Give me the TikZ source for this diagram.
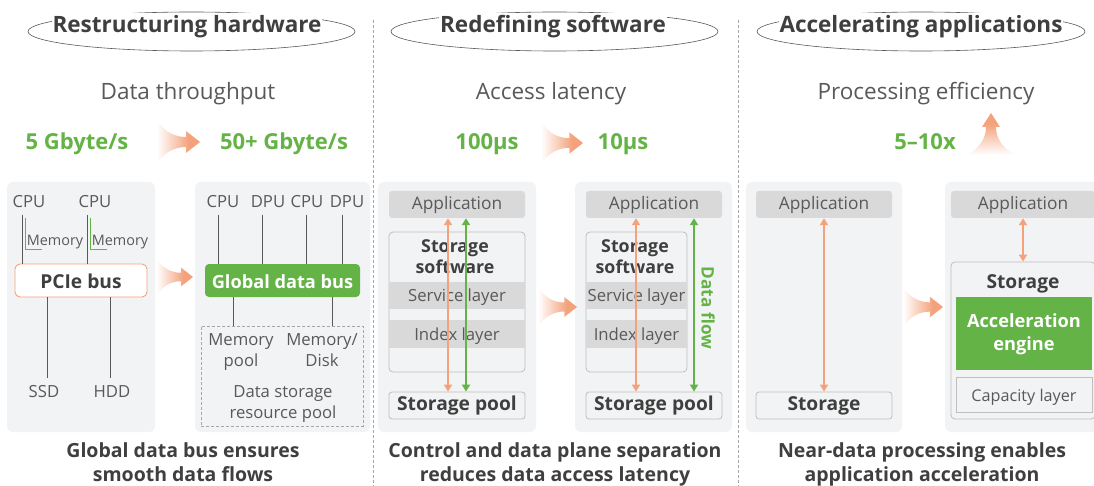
\documentclass[tikz,border=0pt]{standalone}
\usepackage{fontspec}
\setmainfont{Open Sans}
\usetikzlibrary{arrows.meta}

\definecolor{panelbg}{HTML}{F2F3F4}
\definecolor{layergray}{HTML}{D9D9D9}
\definecolor{textgray}{HTML}{595959}
\definecolor{headgray}{HTML}{3F3F3F}
\definecolor{hwgreen}{HTML}{64B346}
\definecolor{hworange}{HTML}{F4A27C}
\definecolor{framegray}{HTML}{BFBFBF}
\definecolor{wiregray}{HTML}{595959}
\definecolor{sepgray}{HTML}{A6A6A6}

\pgfdeclarehorizontalshading{faderight}{100bp}{color(0bp)=(white); color(25bp)=(white); color(62bp)=(hworange); color(100bp)=(hworange)}
\pgfdeclareverticalshading{fadeup}{100bp}{color(0bp)=(white); color(25bp)=(white); color(62bp)=(hworange); color(100bp)=(hworange)}

% block arrow with a flared tail that fades out towards the tail
\newcommand{\fadearrowright}[3]{%
  \begin{scope}[shift={(#1,#2)},scale=#3]
    \shade[shading=faderight] (0,0) -- (-14,-11) -- (-14,-5)
      .. controls (-24,-5) and (-35,-9) .. (-43,-22) -- (-43,22)
      .. controls (-35,9) and (-24,5) .. (-14,5) -- (-14,11) -- cycle;
  \end{scope}}
\newcommand{\fadearrowup}[3]{%
  \begin{scope}[shift={(#1,#2)},scale=#3]
    \shade[shading=fadeup] (0,0) -- (-9,14) -- (-5,14)
      .. controls (-5,24) and (-10,34) .. (-24,42) -- (24,42)
      .. controls (10,34) and (5,24) .. (5,14) -- (9,14) -- cycle;
  \end{scope}}

\begin{document}
\begin{tikzpicture}[x=1pt,y=-1pt,
  panel/.style={fill=panelbg, rounded corners=6pt, inner sep=0pt},
  wire/.style={draw=wiregray, line width=0.9pt},
  memwire/.style={draw=hwgreen, line width=0.9pt},
  titlering/.style={draw=textgray, line width=0.6pt},
  titletext/.style={fill=white, text=headgray, font=\bfseries\fontsize{22.5}{26}\selectfont, inner xsep=1pt, inner ysep=3pt},
  metric/.style={text=textgray, font=\fontsize{22.5}{26}\selectfont, inner sep=0pt},
  figure/.style={text=hwgreen, font=\bfseries\fontsize{22}{25}\selectfont, inner sep=0pt},
  lbl/.style={text=textgray, font=\fontsize{16.7}{20}\selectfont, inner sep=0pt, align=center},
  smalllbl/.style={text=textgray, font=\fontsize{14.4}{18}\selectfont, inner sep=0pt},
  boldlbl/.style={text=headgray, font=\bfseries\fontsize{19.2}{22}\selectfont, inner sep=0pt, align=center},
  caption/.style={text=headgray, font=\bfseries\fontsize{19.5}{24.5}\selectfont, inner sep=0pt, align=center},
  bus/.style={rounded corners=5pt, inner sep=0pt, minimum width=#1, minimum height=33pt},
  appbox/.style={fill=layergray, rounded corners=3pt, inner sep=0pt, minimum width=136pt, minimum height=27pt},
  applbl/.style={lbl, font=\fontsize{17.3}{20}\selectfont},
  layer/.style={fill=layergray, inner sep=0pt, minimum height=27pt},
  frame/.style={draw=framegray, line width=0.8pt, rounded corners=4pt, inner sep=0pt},
  swlbl/.style={boldlbl, font=\bfseries\fontsize{17.8}{20}\selectfont},
  ctrl/.style={draw=hworange, line width=2pt, {Triangle[width=8pt,length=7pt]}-{Triangle[width=8pt,length=7pt]}},
  flow/.style={draw=hwgreen, line width=2pt, {Triangle[width=8pt,length=7pt]}-{Triangle[width=8pt,length=7pt]}},
  sep/.style={draw=sepgray, line width=0.8pt, dash pattern=on 3pt off 2pt}
]
\useasboundingbox (0,0) rectangle (1094,486);
\clip (0,0) rectangle (1094,486);

% ---------- column separators ----------
\coordinate (s1a) at (373,20); \coordinate (s1b) at (373,486);
\coordinate (s2a) at (738,20); \coordinate (s2b) at (738,486);
\draw[sep] (s1a) -- (s1b);
\draw[sep] (s2a) -- (s2b);

% ---------- column titles ----------
\draw[titlering] (191.5,31.5) ellipse (163.5 and 19.5);
\draw[titlering] (554.5,31.5) ellipse (163.5 and 19.5);
\draw[titlering] (921,31.5) ellipse (164 and 19.5);
\node[titletext, anchor=base] (t1) at (187,33) {Restructuring hardware};
\node[titletext, anchor=base] (t2) at (553,33) {Redefining software};
\node[titletext, anchor=base] (t3) at (921,33) {Accelerating applications};

% ---------- metrics ----------
\node[metric, anchor=base] (m1) at (188,100) {Data throughput};
\node[metric, anchor=base] (m2) at (551,100) {Access latency};
\node[metric, anchor=base] (m3) at (926,100) {Processing efficiency};

\node[figure, anchor=base] (f1a) at (77,150) {5 Gbyte/s};
\node[figure, anchor=base] (f1b) at (284,150) {50+ Gbyte/s};
\node[figure, anchor=base] (f2a) at (487,150) {100µs};
\node[figure, anchor=base] (f2b) at (623,150) {10µs};
\node[figure, anchor=base] (f3) at (925,150) {5–10x};

\fadearrowright{200}{142}{1}
\fadearrowright{583}{143}{0.97}
\fadearrowup{991}{113}{1}

% ---------- panels ----------
\node[panel, minimum width=148pt, minimum height=250pt] (p1) at (81,307) {};
\node[panel, minimum width=175pt, minimum height=250pt] (p2) at (282.5,307) {};
\node[panel, minimum width=158pt, minimum height=250pt] (p3) at (457,307) {};
\node[panel, minimum width=157pt, minimum height=250pt] (p4) at (653.5,307) {};
\node[panel, minimum width=156pt, minimum height=250pt] (p5) at (824,307) {};
\node[panel, minimum width=160pt, minimum height=250pt] (p6) at (1025,307) {};

\fadearrowright{193}{277}{0.85}
\fadearrowright{577}{307}{0.9}
\fadearrowright{943}{307}{0.93}

% ---------- panel 1: PCIe bus ----------
\node[lbl, anchor=base] (cpu1) at (29,208) {CPU};
\node[lbl, anchor=base] (cpu2) at (95,208) {CPU};
\node[bus=132pt, draw=hworange, line width=0.9pt, fill=white] (pcie) at (81,280.5) {};
\node[boldlbl, anchor=base, font=\bfseries\fontsize{19.2}{23}\selectfont] (pcietxt) at (81,288) {PCIe bus};
\coordinate (c1top) at (22,215); \coordinate (c2top) at (87,215);
\draw[wire] (c1top) -- (c1top |- pcie.north);
\draw[wire] (c2top) -- (c2top |- pcie.north);
\coordinate (g1a) at (25,218); \coordinate (g1b) at (25,249); \coordinate (g1c) at (42,249);
\coordinate (g2a) at (90,218); \coordinate (g2b) at (90,249); \coordinate (g2c) at (107,249);
\draw[memwire] (g1a) -- (g1b) -- (g1c);
\draw[memwire] (g2a) -- (g2b) -- (g2c);
\node[smalllbl, anchor=base] (mem1) at (55,246) {Memory};
\node[smalllbl, anchor=base] (mem2) at (120,246) {Memory};
\node[lbl, anchor=base] (ssd) at (44,397) {SSD};
\node[lbl, anchor=base] (hdd) at (112,397) {HDD};
\coordinate (d1) at (47,378); \coordinate (d2) at (110,378);
\draw[wire] (d1 |- pcie.south) -- (d1);
\draw[wire] (d2 |- pcie.south) -- (d2);

% ---------- panel 2: global data bus ----------
\node[lbl, anchor=base] (cpu3) at (223,208) {CPU};
\node[lbl, anchor=base] (dpu1) at (268,208) {DPU};
\node[lbl, anchor=base] (cpu4) at (307,208) {CPU};
\node[lbl, anchor=base] (dpu2) at (347,208) {DPU};
\node[bus=155pt, fill=hwgreen, rounded corners=4pt] (gbus) at (282.5,280.5) {};
\node[boldlbl, anchor=base, text=white, font=\bfseries\fontsize{18.2}{23}\selectfont] (gbustxt) at (282.5,288) {Global data bus};
\foreach \x/\n in {218/a,262/b,306/c,342/d}{
  \coordinate (u\n) at (\x,215);
  \draw[wire] (u\n) -- (u\n |- gbus.north);
}
\node[draw=sepgray, line width=0.8pt, dash pattern=on 3pt off 2pt, inner sep=0pt,
      minimum width=162pt, minimum height=100pt] (pool) at (282,376) {};
\coordinate (l1) at (233,0); \coordinate (l2) at (332,0);
\draw[wire] (l1 |- gbus.south) -- (l1 |- pool.north);
\draw[wire] (l2 |- gbus.south) -- (l2 |- pool.north);
\node[lbl, anchor=base] (mp1) at (241,345) {Memory};
\node[lbl, anchor=base] (mp2) at (241,366) {pool};
\node[lbl, anchor=base] (md1) at (322,345) {Memory/};
\node[lbl, anchor=base] (md2) at (322,366) {Disk};
\node[lbl, anchor=base] (ds1) at (283,397) {Data storage};
\node[lbl, anchor=base] (ds2) at (283,418) {resource pool};

\node[caption, anchor=base] (cap1a) at (183,457) {Global data bus ensures};
\node[caption, anchor=base] (cap1b) at (183,481) {smooth data flows};

% ---------- panel 3: layered storage software ----------
\node[appbox] (app3) at (457,204.5) {};
\node[applbl, anchor=base] at (457,210) {Application};
\node[frame, minimum width=136pt, minimum height=140pt] (ss3) at (457,302) {};
\node[swlbl, anchor=base] at (455,252) {Storage};
\node[swlbl, anchor=base] at (455,273.5) {software};
\node[layer, minimum width=136pt] (svc3) at (457,295.5) {};
\node[layer, minimum width=136pt, minimum height=28pt] (idx3) at (457,334) {};
\node[lbl, anchor=base] at (457,301) {Service layer};
\node[lbl, anchor=base] at (457,340) {Index layer};
\node[frame, rounded corners=3pt, minimum width=136pt, minimum height=27pt] (pool3) at (457,405.5) {};
\node[boldlbl, anchor=base] at (457,410.5) {Storage pool};
\coordinate (o3) at (448,0); \coordinate (g3) at (466,0);
\draw[ctrl] (o3 |- app3.south) -- (o3 |- pool3.north);
\draw[flow] (g3 |- app3.south) -- (g3 |- pool3.north);

% ---------- panel 4: separated data plane ----------
\node[appbox] (app4) at (654,204.5) {};
\node[applbl, anchor=base] at (654,210) {Application};
\node[frame, minimum width=101pt, minimum height=140pt] (ss4) at (636.5,302) {};
\node[swlbl, anchor=base] at (635,252) {Storage};
\node[swlbl, anchor=base] at (635,273.5) {software};
\node[layer, minimum width=101pt] (svc4) at (636.5,295.5) {};
\node[layer, minimum width=101pt, minimum height=28pt] (idx4) at (636.5,334) {};
\node[lbl, anchor=base] at (636.5,301) {Service layer};
\node[lbl, anchor=base] at (636.5,340) {Index layer};
\node[frame, rounded corners=3pt, minimum width=136pt, minimum height=27pt] (pool4) at (654,405.5) {};
\node[boldlbl, anchor=base] at (654,410.5) {Storage pool};
\coordinate (o4) at (636,0); \coordinate (g4) at (694,0);
\draw[ctrl] (o4 |- app4.south) -- (o4 |- pool4.north);
\draw[flow] (g4 |- app4.south) -- (g4 |- pool4.north);
\node[boldlbl, text=hwgreen, rotate=-90, font=\bfseries\fontsize{17.2}{22}\selectfont] (dflow) at (708,308) {Data flow};

\node[caption, anchor=base] (cap2a) at (555,457) {Control and data plane separation};
\node[caption, anchor=base] (cap2b) at (555,481) {reduces data access latency};

% ---------- panel 5: plain storage ----------
\node[appbox] (app5) at (824,204.5) {};
\node[applbl, anchor=base] at (824,210) {Application};
\node[frame, rounded corners=3pt, minimum width=136pt, minimum height=27pt] (st5) at (824,405.5) {};
\node[boldlbl, anchor=base] at (824,410.5) {Storage};
\draw[ctrl] (app5.south) -- (st5.north);

% ---------- panel 6: storage with acceleration engine ----------
\node[appbox, minimum width=144pt] (app6) at (1023,204.5) {};
\node[applbl, anchor=base] at (1023,210) {Application};
\node[frame, minimum width=144pt, minimum height=157pt] (st6) at (1023,340.5) {};
\node[boldlbl, anchor=base] at (1023,288.5) {Storage};
\node[fill=hwgreen, inner sep=0pt, minimum width=136pt, minimum height=73pt] (acc) at (1024,333.5) {};
\node[boldlbl, anchor=base, text=white, font=\bfseries\fontsize{18.2}{23}\selectfont] at (1024,327) {Acceleration};
\node[boldlbl, anchor=base, text=white, font=\bfseries\fontsize{18.2}{23}\selectfont] at (1024,350) {engine};
\node[draw=framegray, line width=0.8pt, inner sep=0pt, minimum width=136pt, minimum height=35pt] (capl) at (1024,394.5) {};
\node[lbl, anchor=base, font=\fontsize{16.2}{20}\selectfont] at (1024,401.5) {Capacity layer};
\draw[ctrl] (app6.south) -- (st6.north);

\node[caption, anchor=base] (cap3a) at (922,457) {Near-data processing enables};
\node[caption, anchor=base] (cap3b) at (922,481) {application acceleration};

\end{tikzpicture}
\end{document}
